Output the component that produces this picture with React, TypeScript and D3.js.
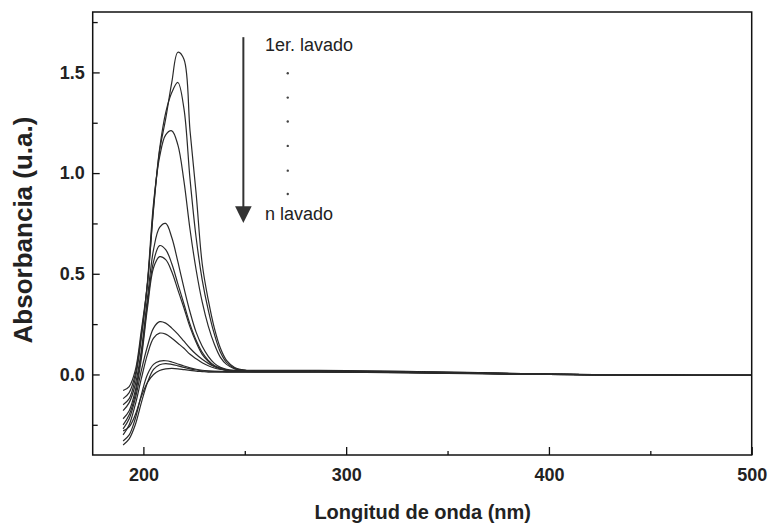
import React, { useEffect, useRef } from "react";
import * as d3 from "d3";

// Wavelength grid (nm)
const wavelengths = [190, 193, 196, 199, 202, 205, 208, 211, 214, 217, 220, 223, 226, 229, 232, 235, 238, 241, 245, 250, 260, 280, 300, 330, 360, 400, 450, 500];

// Absorbance of each wash (1er lavado ... n lavado)
const lavado1 = [-0.08, -0.06, 0.02, 0.22, 0.45, 0.82, 1.11, 1.27, 1.45, 1.60, 1.565, 1.21, 0.90, 0.55, 0.37, 0.23, 0.13, 0.07, 0.035, 0.022, 0.02, 0.02, 0.019, 0.015, 0.01, 0.002, -0.003, -0.005];
const lavado2 = [-0.12, -0.09, 0.0, 0.2, 0.45, 0.83, 1.12, 1.30, 1.40, 1.45, 1.32, 0.97, 0.68, 0.47, 0.32, 0.20, 0.11, 0.06, 0.03, 0.02, 0.018, 0.018, 0.017, 0.014, 0.009, 0.002, -0.003, -0.005];
const lavado3 = [-0.15, -0.12, -0.02, 0.18, 0.46, 0.85, 1.08, 1.19, 1.21, 1.14, 0.96, 0.72, 0.52, 0.36, 0.24, 0.15, 0.085, 0.05, 0.028, 0.02, 0.018, 0.017, 0.016, 0.013, 0.008, 0.001, -0.003, -0.005];
const lavado4 = [-0.18, -0.14, -0.05, 0.12, 0.38, 0.62, 0.73, 0.75, 0.68, 0.56, 0.43, 0.31, 0.21, 0.14, 0.09, 0.055, 0.035, 0.025, 0.02, 0.018, 0.017, 0.016, 0.015, 0.012, 0.008, 0.001, -0.003, -0.005];
const lavado5 = [-0.22, -0.18, -0.08, 0.1, 0.35, 0.56, 0.64, 0.62, 0.55, 0.45, 0.35, 0.25, 0.17, 0.11, 0.07, 0.045, 0.03, 0.022, 0.018, 0.016, 0.015, 0.015, 0.014, 0.011, 0.007, 0.001, -0.003, -0.005];
const lavado6 = [-0.25, -0.2, -0.1, 0.08, 0.33, 0.53, 0.585, 0.57, 0.51, 0.42, 0.33, 0.235, 0.16, 0.1, 0.065, 0.04, 0.027, 0.02, 0.016, 0.015, 0.014, 0.014, 0.013, 0.01, 0.006, 0.0, -0.003, -0.005];
const lavado7 = [-0.27, -0.22, -0.12, 0.02, 0.14, 0.23, 0.262, 0.255, 0.23, 0.2, 0.165, 0.13, 0.1, 0.075, 0.055, 0.04, 0.03, 0.022, 0.018, 0.016, 0.015, 0.015, 0.014, 0.011, 0.007, 0.001, -0.003, -0.005];
const lavado8 = [-0.3, -0.25, -0.15, -0.02, 0.1, 0.18, 0.205, 0.2, 0.18, 0.155, 0.13, 0.1, 0.078, 0.058, 0.043, 0.032, 0.025, 0.02, 0.016, 0.015, 0.014, 0.014, 0.013, 0.01, 0.006, 0.0, -0.003, -0.005];
const lavado9 = [-0.33, -0.3, -0.22, -0.1, 0.0, 0.05, 0.066, 0.068, 0.062, 0.052, 0.042, 0.033, 0.026, 0.021, 0.018, 0.016, 0.015, 0.014, 0.014, 0.014, 0.014, 0.014, 0.013, 0.01, 0.006, 0.0, -0.003, -0.005];
const lavado10 = [-0.35, -0.32, -0.25, -0.14, -0.04, 0.025, 0.048, 0.054, 0.05, 0.043, 0.035, 0.028, 0.022, 0.018, 0.016, 0.015, 0.014, 0.013, 0.013, 0.013, 0.013, 0.013, 0.012, 0.009, 0.005, 0.0, -0.003, -0.005];
const lavado11 = [-0.28, -0.26, -0.2, -0.11, -0.04, 0.0, 0.02, 0.028, 0.03, 0.028, 0.024, 0.02, 0.016, 0.014, 0.012, 0.011, 0.011, 0.011, 0.011, 0.011, 0.011, 0.011, 0.011, 0.008, 0.004, 0.0, -0.003, -0.005];

const series = [lavado1, lavado2, lavado3, lavado4, lavado5, lavado6, lavado7, lavado8, lavado9, lavado10, lavado11];

const xMajorTicks = [200, 300, 400, 500];
const xMinorTicks = [250, 350, 450];
const yMajorTicks = [0, 0.5, 1.0, 1.5];
const yMinorTicks = [-0.25, 0.25, 0.75, 1.25, 1.75];

const xTitle = "Longitud de onda (nm)";
const yTitle = "Absorbancia (u.a.)";
const labelFirst = "1er. lavado";
const labelLast = "n lavado";

const W = 770;
const H = 528;
const plot = { left: 92.7, right: 751.7, top: 12, bottom: 455 };
const FONT = "Arial, 'Liberation Sans', Helvetica, sans-serif";

export default function App() {
  const xAxisRef = useRef<SVGGElement>(null);
  const xMinorRef = useRef<SVGGElement>(null);
  const yAxisRef = useRef<SVGGElement>(null);
  const yMinorRef = useRef<SVGGElement>(null);

  const x = d3.scaleLinear().domain([175, 500]).range([plot.left, plot.right]);
  const y = d3.scaleLinear().domain([-0.4, 1.8]).range([plot.bottom, plot.top]);

  const line = d3
    .line<number>()
    .x((_, i) => x(wavelengths[i]))
    .y((d) => y(d))
    .curve(d3.curveCatmullRom.alpha(0.5));

  useEffect(() => {
    const styleAxis = (g: d3.Selection<SVGGElement, unknown, null, undefined>) => {
      g.select(".domain").remove();
      g.selectAll(".tick line").attr("stroke", "#111").attr("stroke-width", 1.3);
      g.selectAll(".tick text")
        .attr("fill", "#222")
        .style("font-family", FONT)
        .style("font-weight", "bold")
        .style("font-size", "18px");
    };
    if (xAxisRef.current) {
      const g = d3.select(xAxisRef.current);
      g.call(
        d3.axisBottom(x).tickValues(xMajorTicks).tickFormat(d3.format("d")).tickSizeInner(-8).tickSizeOuter(0).tickPadding(13)
      );
      styleAxis(g);
    }
    if (xMinorRef.current) {
      const g = d3.select(xMinorRef.current);
      g.call(d3.axisBottom(x).tickValues(xMinorTicks).tickFormat(() => "").tickSizeInner(-4).tickSizeOuter(0));
      styleAxis(g);
    }
    if (yAxisRef.current) {
      const g = d3.select(yAxisRef.current);
      g.call(
        d3.axisLeft(y).tickValues(yMajorTicks).tickFormat(d3.format(".1f")).tickSizeInner(-7).tickSizeOuter(0).tickPadding(8)
      );
      styleAxis(g);
    }
    if (yMinorRef.current) {
      const g = d3.select(yMinorRef.current);
      g.call(d3.axisLeft(y).tickValues(yMinorTicks).tickFormat(() => "").tickSizeInner(-5).tickSizeOuter(0));
      styleAxis(g);
    }
  }, []);

  // annotation in data coordinates
  const arrowX = x(249.3);
  const arrowTop = y(1.675);
  const arrowTip = y(0.752);
  const headTop = y(0.835);
  const textX = x(260);
  const dotX = x(271.2);
  const dotVals = [1.496, 1.375, 1.256, 1.135, 1.012, 0.896];

  return (
    <svg width={W} height={H} style={{ position: "absolute", left: 0, top: 0, background: "#fff" }}>
      <rect x={0} y={0} width={W} height={H} fill="#fff" />
      <g>
        {series.map((s, i) => (
          <path key={i} d={line(s) || ""} fill="none" stroke="#2a2a2a" strokeWidth={1.2} />
        ))}
      </g>
      <g ref={xAxisRef} transform={`translate(0,${plot.bottom})`} />
      <g ref={xMinorRef} transform={`translate(0,${plot.bottom})`} />
      <g ref={yAxisRef} transform={`translate(${plot.left},0)`} />
      <g ref={yMinorRef} transform={`translate(${plot.left},0)`} />
      <rect
        x={plot.left}
        y={plot.top}
        width={plot.right - plot.left}
        height={plot.bottom - plot.top}
        fill="none"
        stroke="#111"
        strokeWidth={1.5}
      />
      {/* arrow annotation */}
      <line x1={arrowX} x2={arrowX} y1={arrowTop} y2={headTop + 1} stroke="#333" strokeWidth={2} />
      <path
        d={`M${arrowX - 8.3},${headTop} L${arrowX + 8.3},${headTop} L${arrowX},${arrowTip} Z`}
        fill="#333"
      />
      <text x={textX} y={y(1.605)} fontFamily={FONT} fontSize={18} fill="#222">
        {labelFirst}
      </text>
      {dotVals.map((v, i) => (
        <circle key={i} cx={dotX} cy={y(v)} r={1.2} fill="#444" />
      ))}
      <text x={textX} y={y(0.767)} fontFamily={FONT} fontSize={18} fill="#222">
        {labelLast}
      </text>
      {/* axis titles */}
      <text
        x={(plot.left + plot.right) / 2 + 0.5}
        y={519}
        textAnchor="middle"
        fontFamily={FONT}
        fontWeight="bold"
        fontSize={20}
        fill="#222"
      >
        {xTitle}
      </text>
      <text
        transform={`translate(32,230) rotate(-90)`}
        textAnchor="middle"
        fontFamily={FONT}
        fontWeight="bold"
        fontSize={26}
        fill="#222"
      >
        {yTitle}
      </text>
    </svg>
  );
}
